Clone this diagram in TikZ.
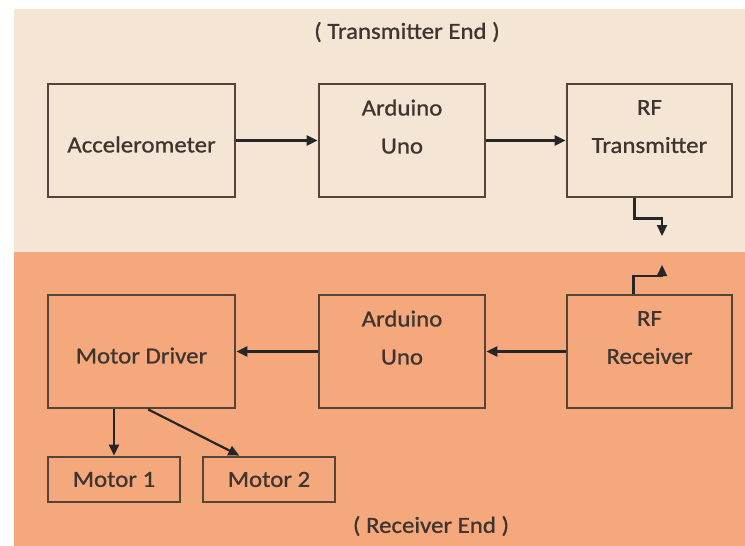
\documentclass[tikz,border=0pt]{standalone}
\usepackage{fontspec}
\newfontfamily\blockfont[FakeStretch=1.08, FakeBold=0.9]{Carlito}
\usetikzlibrary{positioning, calc, arrows.meta}
\definecolor{txband}{HTML}{F5E5D4}
\definecolor{rxband}{HTML}{F4A87B}
\definecolor{edgebrown}{HTML}{54443A}
\definecolor{inkgray}{HTML}{3E3530}

\begin{document}
\begin{tikzpicture}[
    x=1pt, y=-1pt,
    boxframe/.style={draw=edgebrown, line width=2.8pt, rectangle, minimum height=113pt, align=center, inner sep=0pt, text=inkgray, font=\blockfont\fontsize{23}{38}\selectfont},
    module/.style={boxframe, text height=24pt},
    twoline/.style={boxframe, text depth=28pt},
    motor/.style={boxframe, minimum width=132pt, minimum height=45pt},
    endtitle/.style={text=inkgray, font=\blockfont\fontsize{23}{28}\selectfont},
    link/.style={draw=black!85, line width=2.2pt, -{Triangle[length=11pt, width=10pt]}}
]
    \useasboundingbox (0,0) rectangle (745,546);

    % --- BACKGROUND BANDS ---
    \fill[txband] (14,9) rectangle (745,252);
    \fill[rxband] (14,252) rectangle (745,546);

    % --- TRANSMITTER SIDE ---
    \node[endtitle] (txtitle) at (407,32) {( Transmitter End )};

    \node[module, minimum width=187pt] (accel) at (141.5,140.5) {Accelerometer};
    \node[twoline, minimum width=166pt] (ardtx) at (402,140.5) {Arduino\\Uno};
    \node[twoline, minimum width=165pt] (rftx) at (649.5,140.5) {RF\\Transmitter};

    \draw[link] (accel) -- (ardtx);
    \draw[link] (ardtx) -- (rftx);

    % Antenna (out)
    \coordinate (txant) at (662,236);
    \draw[link] ([xshift=-15pt]rftx.south) -- ++(0,20) -| (txant);

    % --- RECEIVER SIDE ---
    \node[twoline, minimum width=165pt] (rfrx) at (649.5,351.5) {RF\\Receiver};
    \node[twoline, minimum width=166pt] (ardrx) at (402,351.5) {Arduino\\Uno};
    \node[module, minimum width=187pt] (mdrv) at (141.5,351.5) {Motor Driver};

    % Antenna (in)
    \coordinate (rxant) at (662,265);
    \draw[link] ([xshift=-16pt]rfrx.north) -- ++(0,-18) -| (rxant);

    \draw[link] (rfrx) -- (ardrx);
    \draw[link] (ardrx) -- (mdrv);

    % Motors
    \node[motor] (motA) at (114,479.5) {Motor 1};
    \node[motor] (motB) at (269,479.5) {Motor 2};
    \draw[link] (mdrv.south -| motA.north) -- (motA.north);
    \draw[link] ($(mdrv.south west)!0.535!(mdrv.south east)$) -- ($(motB.north west)!0.28!(motB.north east)$);

    \node[endtitle] (rxtitle) at (431,526) {( Receiver End )};

\end{tikzpicture}
\end{document}
